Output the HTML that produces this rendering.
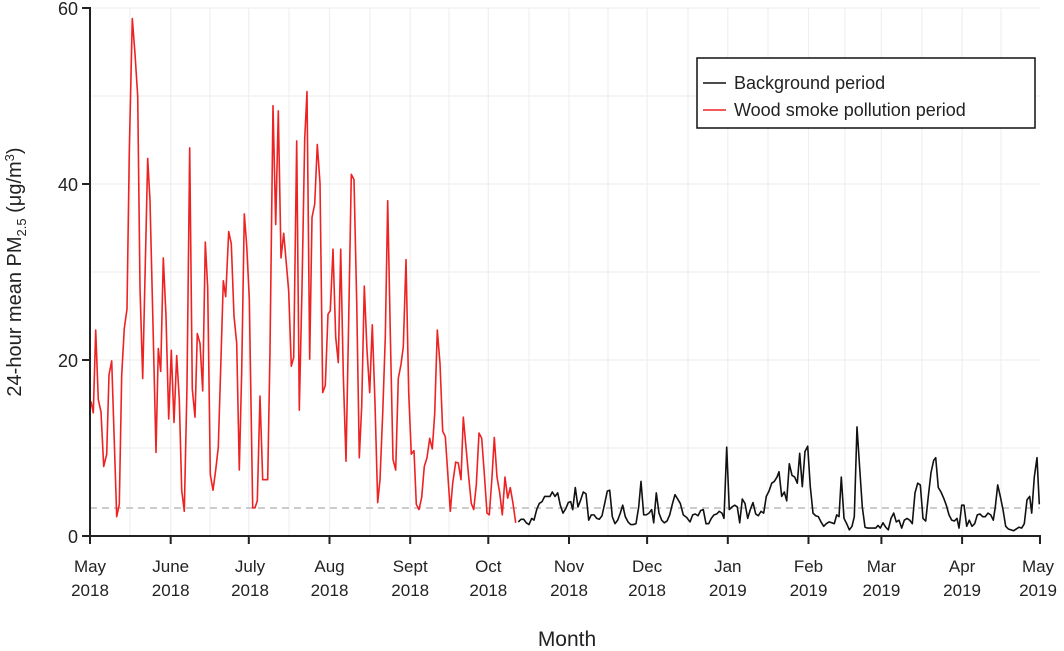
<!DOCTYPE html>
<html><head><meta charset="utf-8"><style>
html,body{margin:0;padding:0;background:#fff;}
svg{display:block;font-family:"Liberation Sans",sans-serif;}
</style></head><body>
<svg width="1064" height="651" viewBox="0 0 1064 651" xmlns="http://www.w3.org/2000/svg">
<g stroke="#efefef" stroke-width="1.2">
<line x1="90" x2="1040" y1="448" y2="448"/><line x1="90" x2="1040" y1="360" y2="360"/>
<line x1="90" x2="1040" y1="272" y2="272"/><line x1="90" x2="1040" y1="184" y2="184"/>
<line x1="90" x2="1040" y1="96" y2="96"/><line x1="90" x2="1040" y1="8" y2="8"/>
<line x1="130" x2="130" y1="8" y2="536"/><line x1="170.7" x2="170.7" y1="8" y2="536"/>
<line x1="210" x2="210" y1="8" y2="536"/><line x1="248.8" x2="248.8" y1="8" y2="536"/>
<line x1="289" x2="289" y1="8" y2="536"/><line x1="329.5" x2="329.5" y1="8" y2="536"/>
<line x1="370" x2="370" y1="8" y2="536"/><line x1="410.2" x2="410.2" y1="8" y2="536"/>
<line x1="449" x2="449" y1="8" y2="536"/><line x1="488.3" x2="488.3" y1="8" y2="536"/>
<line x1="529" x2="529" y1="8" y2="536"/><line x1="569" x2="569" y1="8" y2="536"/>
<line x1="608" x2="608" y1="8" y2="536"/><line x1="647.1" x2="647.1" y1="8" y2="536"/>
<line x1="688" x2="688" y1="8" y2="536"/><line x1="727.8" x2="727.8" y1="8" y2="536"/>
<line x1="768" x2="768" y1="8" y2="536"/><line x1="808.5" x2="808.5" y1="8" y2="536"/>
<line x1="845" x2="845" y1="8" y2="536"/><line x1="881.4" x2="881.4" y1="8" y2="536"/>
<line x1="922" x2="922" y1="8" y2="536"/><line x1="962.1" x2="962.1" y1="8" y2="536"/>
<line x1="1001" x2="1001" y1="8" y2="536"/>
</g>
<line x1="90" x2="1040" y1="508" y2="508" stroke="#bbb" stroke-width="1.5" stroke-dasharray="7,5"/>
<g transform="translate(0,536) scale(1,-8.8)" fill="none" stroke-linejoin="round">
<polyline vector-effect="non-scaling-stroke" stroke="#ee2222" stroke-width="1.6" points="91,15.3 93.3,14 95.7,23.4 98.3,15.5 101,14.1 103.7,7.9 106.7,9.3 109,18.3 111.7,19.9 116.7,2.2 119.3,3.6 121.7,18.3 124.3,23.6 127,25.8 129.3,43.7 132.3,58.8 135,54.8 137.7,50 140,28.2 142.7,17.9 147.7,42.9 150,38.1 152.7,25.4 156,9.5 158.3,21.3 160.7,18.7 163.3,31.6 166,25 168.7,13.3 171.3,21.1 174,12.9 176.7,20.5 179.3,15.5 181.7,5.2 184.3,2.8 187,17.1 189.7,44.1 192.3,16.7 195,13.5 197.3,23 200,21.9 202.7,16.5 205.3,33.4 207.7,28.2 210.3,7 213,5.2 215.7,7.5 218.3,10.1 220.7,19.1 223.3,29 225.7,27.2 228.7,34.6 231.3,33.2 234,25 236.7,21.9 239.3,7.5 241.7,18.7 244.3,36.6 246.7,33 249.3,27 252.7,3.2 255,3.2 257.3,4 260,15.9 262.7,6.4 267.7,6.4 270,21.1 273,48.9 275.7,35.4 278.3,48.3 281,31.6 283.7,34.4 286,31.4 288.7,27.8 291.3,19.3 293.7,20.3 296.7,44.9 299.3,14.3 302,28.2 304.7,45.1 307,50.5 309.7,20.1 312,36.2 314.7,37.7 317.3,44.5 320,40.1 322.7,16.3 325.3,17.1 328,25.2 330.3,25.6 333,32.6 335.7,22.6 338.3,19.7 340.7,32.6 343.3,18.3 346,8.5 348.7,24.6 351.3,41.1 354,40.5 356.7,26.6 359.3,8.9 361.7,14.7 364.3,28.4 367,21.1 369.7,16.3 372.3,24 375,15.1 377.7,3.8 380,6.4 382.7,13.9 385.3,22.6 387.7,38.1 390.3,23 393,8.7 395.7,7.5 398.3,17.9 401,19.5 403.3,21.5 406,31.4 408.7,16.3 411.3,9.3 414,9.7 416.3,3.6 419,3 421.7,4.4 424.3,7.9 427,8.9 429.7,11.1 432.3,9.9 434.7,13.9 437.3,23.4 440,19.6 442.7,11.9 445.3,11.3 450.3,2.8 452.7,6 455.7,8.4 458.3,8.3 461,6.4 463.3,13.5 466,10.1 468.7,6.7 471.3,3.7 473.7,3 476.3,5.8 479,11.7 481.7,11.1 484.3,7.1 487,2.6 489.3,2.4 492,6.7 494.3,11.2 497,6.7 499.7,4.9 502.3,2.4 505,6.7 507.7,4.3 510.3,5.5 513,3.7 515.7,1.5"/>
<polyline vector-effect="non-scaling-stroke" stroke="#111" stroke-width="1.6" points="518.3,1.6 521,1.9 523.7,1.9 526.3,1.5 529,1.3 531.7,2 534,1.8 536.7,3 539.3,3.7 542,3.9 544.7,4.5 547.3,4.5 550,4.5 552.3,5 555,4.5 557.7,4.9 560.3,3.5 563,2.6 565.7,3.1 568.3,3.8 570.7,3.9 572.7,3 575.3,5.5 578,3.3 580.7,4.1 583.3,5 586,4.8 588.7,1.8 591.3,2.4 594,2.4 596.7,2 599.3,1.9 602,2.3 604.7,3.7 607.3,5.1 609.7,5.2 612.3,2.2 615,1.4 617.7,1.8 620.3,2.6 622.7,3.5 625.3,2.2 628,1.6 630.7,1.3 633.3,1.3 636,1.4 638.7,3.3 641,6.2 643.7,2.4 646.3,2.4 649,2.6 651.7,3 653.7,1.5 656.3,4.9 659,2.6 661.7,1.8 664.3,1.5 667,1.7 669.7,2.4 672.3,3.6 675,4.7 677.7,4.2 680.3,3.7 683.3,2.4 686.7,2.1 690,1.6 692.7,2.4 695.3,2.5 698,2.3 700.7,2.9 703.3,3 706,1.4 708.7,1.4 711.3,2 714,2.4 716.7,2.5 719.3,2.8 722,2.6 724,2 726.7,10.1 729.3,3 732,3.3 734.7,3.5 737.3,3.3 739.7,1.5 742.3,4.2 745,3.7 747.7,2 750.3,3 753,3.8 755.7,2.5 758.3,2.3 761,2.8 763.7,2.6 766.3,4.5 769,5.1 771.7,6 774.3,6.2 777,6.7 779,7.3 781.7,4.5 784.3,5 786.7,4 789.3,8.2 792,6.9 794.7,6.7 797.3,6 799.7,9.4 802.3,5.6 805,9.6 807.7,10.2 810.3,5.6 813,2.6 815.7,2.3 818.3,2.2 821,1.6 823.7,1.1 826.3,1.4 829,1.6 831.7,1.5 834.3,1.4 836.7,2.4 839,2.2 841.3,6.7 844,2 846.7,1.4 849.3,0.7 852,1.1 854.3,2.2 857,12.4 859.7,7.7 862.3,3.3 865,1 867.7,0.9 870.3,0.9 873,0.9 875.7,0.9 878,1.2 880.3,0.9 883,1.5 885.7,1 888.3,0.7 891,2 893.7,2.6 896.3,1.6 899,1.8 901.7,0.9 904.3,1.8 907,2 909.7,1.8 912.3,1.4 915,4.9 917.7,6 920.3,5.8 923,2 925.7,1.7 928.3,4.5 931,7.2 933.7,8.6 935.7,8.9 938.3,5.5 941,5 943.7,4.3 946.3,3.5 949,2.4 951.7,1.8 954.3,1.7 957,2 959,0.9 961.7,3.5 964,3.5 966.7,1.1 969.3,1.8 972,1.1 974.7,1.4 977.3,2.4 980,2.5 982.7,2.2 985.3,2.2 988,2.6 990.7,2.4 993.3,1.8 995.3,3.3 997.7,5.8 1000.3,4.5 1003,3 1005.7,1.1 1008.3,0.8 1011,0.7 1013.7,0.6 1016.3,0.8 1019,1 1021.7,0.9 1024.3,1.4 1027,4.1 1029.7,4.5 1031.7,2.6 1034.3,6.7 1037,8.9 1039.3,3.6"/>
</g>
<g stroke="#222" stroke-width="2" fill="none">
<line x1="90" x2="90" y1="7" y2="537"/>
<line x1="89" x2="1041" y1="536" y2="536"/>
<line x1="82" x2="90" y1="8" y2="8"/><line x1="82" x2="90" y1="184" y2="184"/>
<line x1="82" x2="90" y1="360" y2="360"/><line x1="82" x2="90" y1="536" y2="536"/>
<path d="M90,536v8M170.7,536v8M248.8,536v8M329.5,536v8M410.2,536v8M488.3,536v8M569,536v8M647.1,536v8M727.8,536v8M808.5,536v8M881.4,536v8M962.1,536v8M1040,536v8"/>
</g>
<g font-size="18" fill="#222" text-anchor="end">
<text x="78" y="15">60</text><text x="78" y="191">40</text><text x="78" y="367">20</text><text x="78" y="543">0</text>
</g>
<g font-size="17" fill="#222" text-anchor="middle">
<text x="90" y="572">May</text><text x="90" y="596">2018</text>
<text x="170.7" y="572">June</text><text x="170.7" y="596">2018</text>
<text x="250" y="572">July</text><text x="250" y="596">2018</text>
<text x="329.5" y="572">Aug</text><text x="329.5" y="596">2018</text>
<text x="410.2" y="572">Sept</text><text x="410.2" y="596">2018</text>
<text x="488.3" y="572">Oct</text><text x="488.3" y="596">2018</text>
<text x="569" y="572">Nov</text><text x="569" y="596">2018</text>
<text x="647.1" y="572">Dec</text><text x="647.1" y="596">2018</text>
<text x="727.8" y="572">Jan</text><text x="727.8" y="596">2019</text>
<text x="808.5" y="572">Feb</text><text x="808.5" y="596">2019</text>
<text x="881.4" y="572">Mar</text><text x="881.4" y="596">2019</text>
<text x="962.1" y="572">Apr</text><text x="962.1" y="596">2019</text>
<text x="1038" y="572">May</text><text x="1038" y="596">2019</text>
</g>
<text x="567" y="646" font-size="21" fill="#222" text-anchor="middle">Month</text>
<text transform="translate(21,272) rotate(-90)" font-size="20" fill="#222" text-anchor="middle">24-hour mean PM<tspan font-size="13" dy="5">2.5</tspan><tspan dy="-5"> (μg/m</tspan><tspan font-size="13" dy="-7">3</tspan><tspan dy="7">)</tspan></text>
<rect x="697" y="58" width="338" height="70" fill="#fff" stroke="#111" stroke-width="1.5"/>
<line x1="703" x2="726" y1="83" y2="83" stroke="#111" stroke-width="1.6"/>
<line x1="703" x2="726" y1="110" y2="110" stroke="#ee2222" stroke-width="1.6"/>
<text x="734" y="89" font-size="18" fill="#222">Background period</text>
<text x="734" y="116" font-size="18" fill="#222">Wood smoke pollution period</text>
</svg>
</body></html>
